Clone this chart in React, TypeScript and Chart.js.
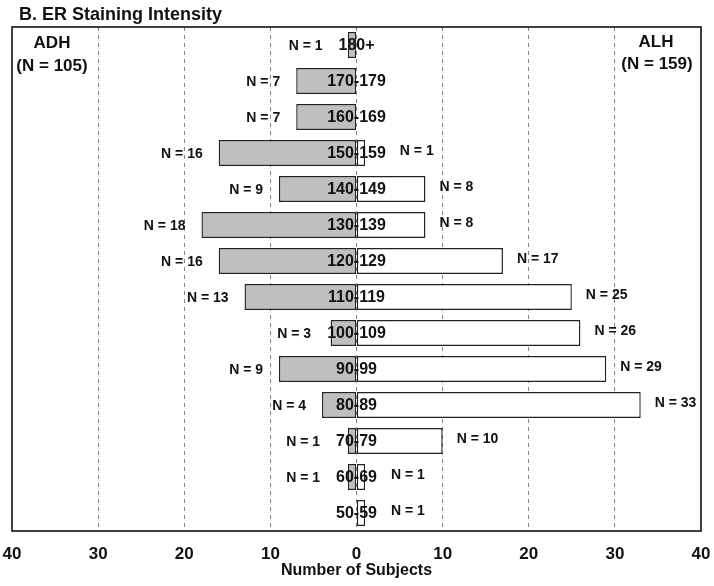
import React, { useEffect, useRef } from "react";
import { Chart, registerables } from "chart.js";

Chart.register(...registerables);

const categories = ["180+", "170-179", "160-169", "150-159", "140-149", "130-139", "120-129", "110-119", "100-109", "90-99", "80-89", "70-79", "60-69", "50-59"];
const adhCounts = [1, 7, 7, 16, 9, 18, 16, 13, 3, 9, 4, 1, 1, 0];
const alhCounts = [0, 0, 0, 1, 8, 8, 17, 25, 26, 29, 33, 10, 1, 1];
const xTicks = [-40, -30, -20, -10, 0, 10, 20, 30, 40];
const titleText = "B. ER Staining Intensity";
const leftGroup = ["ADH", "(N = 105)"];
const rightGroup = ["ALH", "(N = 159)"];
const axisTitle = "Number of Subjects";

const FONT = "'Liberation Sans', Arial, Helvetica, sans-serif";

const annotate = {
  id: "annotate",
  afterDatasetsDraw(chart: any) {
    const { ctx, chartArea, scales } = chart;
    const xs = scales.x;
    const ys = scales.y;
    const x0 = xs.getPixelForValue(0);
    ctx.save();
    ctx.fillStyle = "#111";
    ctx.textBaseline = "middle";
    categories.forEach((cat, i) => {
      const y = ys.getPixelForValue(i);
      ctx.font = `bold 16px ${FONT}`;
      ctx.textAlign = "center";
      ctx.fillText(cat, x0, y + 1);
      const half = ctx.measureText(cat).width / 2;
      ctx.font = `bold 14px ${FONT}`;
      const a = adhCounts[i];
      if (a > 0) {
        const end = xs.getPixelForValue(-a);
        const xr = Math.min(end, x0 - half) - 16;
        ctx.textAlign = "right";
        ctx.fillText(`N = ${a}`, xr, y + 1);
      }
      const b = alhCounts[i];
      if (b > 0) {
        const end = xs.getPixelForValue(b);
        const xl = Math.max(end, x0 + half) + 14;
        ctx.textAlign = "left";
        ctx.fillText(`N = ${b}`, xl, y - 2);
      }
    });
    ctx.font = `bold 17px ${FONT}`;
    ctx.textAlign = "center";
    ctx.fillText(leftGroup[0], chartArea.left + 40, chartArea.top + 16);
    ctx.fillText(leftGroup[1], chartArea.left + 40, chartArea.top + 39);
    ctx.fillText(rightGroup[0], chartArea.right - 45, chartArea.top + 15);
    ctx.fillText(rightGroup[1], chartArea.right - 44, chartArea.top + 37);
    ctx.strokeStyle = "#111";
    ctx.lineWidth = 1.6;
    ctx.strokeRect(chartArea.left, chartArea.top, chartArea.right - chartArea.left, chartArea.bottom - chartArea.top);
    ctx.font = `bold 18px ${FONT}`;
    ctx.textAlign = "left";
    ctx.fillText(titleText, 19, 15);
    ctx.restore();
  },
};

export default function App() {
  const ref = useRef<HTMLCanvasElement | null>(null);
  useEffect(() => {
    if (!ref.current) return;
    const chart = new Chart(ref.current, {
      type: "bar",
      data: {
        labels: categories,
        datasets: [
          {
            label: "ADH",
            data: adhCounts.map((v) => -v),
            backgroundColor: "#bfbfbf",
            borderColor: "#222",
            borderWidth: 1.4,
            borderSkipped: false,
            barPercentage: 0.72,
            categoryPercentage: 1,
          },
          {
            label: "ALH",
            data: alhCounts,
            backgroundColor: "#ffffff",
            borderColor: "#222",
            borderWidth: 1.4,
            borderSkipped: false,
            barPercentage: 0.72,
            categoryPercentage: 1,
          },
        ],
      },
      options: {
        indexAxis: "y",
        responsive: false,
        animation: false,
        layout: { padding: { left: 12, right: 13, top: 27, bottom: 7.5 } },
        plugins: {
          legend: { display: false },
          tooltip: { enabled: false },
          title: { display: false },
        },
        scales: {
          x: {
            type: "linear",
            min: -40,
            max: 40,
            stacked: true,
            afterBuildTicks: (scale: any) => {
              scale.ticks = xTicks.map((v) => ({ value: v }));
            },
            ticks: {
              callback: (v: any) => String(Math.abs(Number(v))),
              color: "#111",
              font: { family: FONT, size: 17, weight: "bold", lineHeight: 1 },
              padding: 0,
              maxRotation: 0,
              autoSkip: false,
            },
            grid: {
              drawTicks: true,
              tickLength: 14.5,
              tickColor: "rgba(0,0,0,0)",
              color: (c: any) => (c.tick && Math.abs(c.tick.value) === 40 ? "rgba(0,0,0,0)" : "#666"),
              lineWidth: 0.8,
            },
            border: { display: false, dash: [4, 4] },
            title: {
              display: true,
              text: axisTitle,
              color: "#111",
              font: { family: FONT, size: 16, weight: "bold", lineHeight: 1 },
              padding: { top: 0, bottom: 0 },
            },
          },
          y: {
            type: "category",
            stacked: true,
            display: false,
            grid: { display: false },
          },
        },
      },
      plugins: [annotate],
    } as any);
    return () => chart.destroy();
  }, []);
  return (
    <div style={{ position: "absolute", left: 0, top: 0, width: 714, height: 586, background: "#fff" }}>
      <canvas ref={ref} width={714} height={586} />
    </div>
  );
}
